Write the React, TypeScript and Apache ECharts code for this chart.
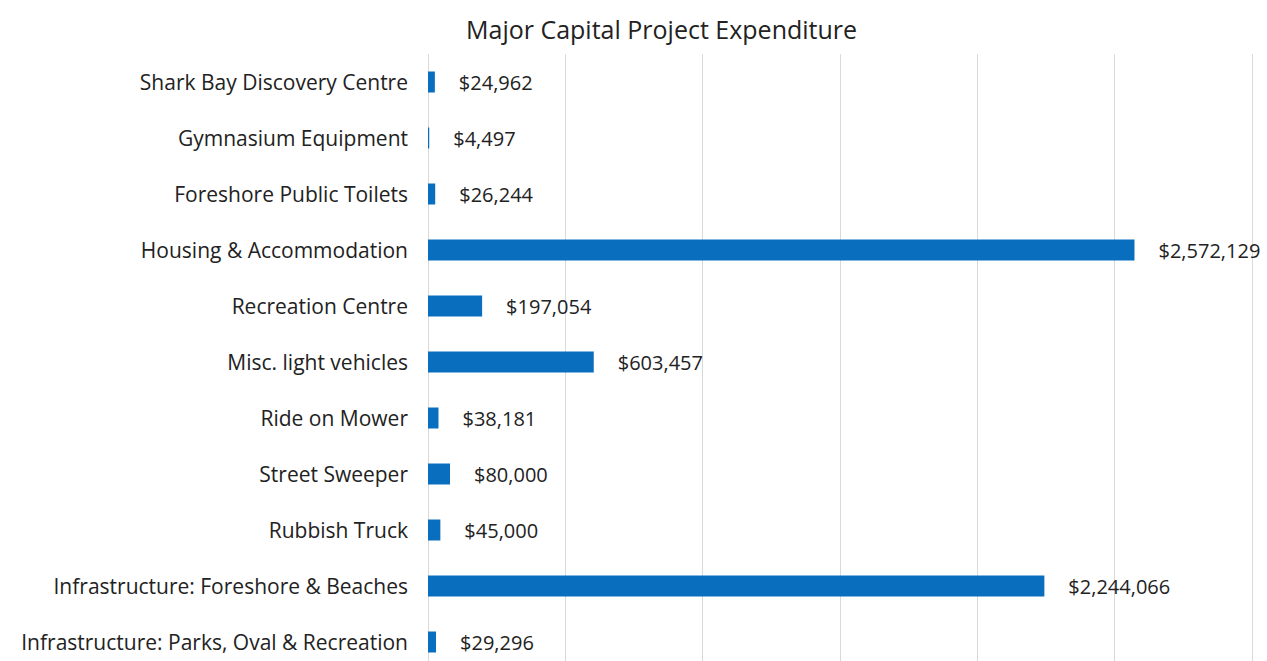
import React, { useEffect, useRef } from "react";
import * as echarts from "echarts";

const categories = [
  "Shark Bay Discovery Centre",
  "Gymnasium Equipment",
  "Foreshore Public Toilets",
  "Housing & Accommodation",
  "Recreation Centre",
  "Misc. light vehicles",
  "Ride on Mower",
  "Street Sweeper",
  "Rubbish Truck",
  "Infrastructure: Foreshore & Beaches",
  "Infrastructure: Parks, Oval & Recreation",
];

const expenditure = [24962, 4497, 26244, 2572129, 197054, 603457, 38181, 80000, 45000, 2244066, 29296];

const titleText = "Major Capital Project Expenditure";

export default function App() {
  const ref = useRef<HTMLDivElement>(null);
  useEffect(() => {
    if (!ref.current) return;
    const chart = echarts.init(ref.current, null, { renderer: "svg" });
    chart.setOption({
      animation: false,
      backgroundColor: "#ffffff",
      title: {
        text: titleText,
        left: 461,
        top: 11,
        textStyle: { fontFamily: "Open Sans", fontSize: 25, fontWeight: "normal", color: "#222" },
      },
      grid: { left: 428, right: 15, top: 54, bottom: 10 },
      xAxis: {
        type: "value",
        min: 0,
        max: 3000000,
        interval: 500000,
        axisLabel: { show: false },
        axisLine: { show: false },
        axisTick: { show: false },
        splitLine: { show: true, lineStyle: { color: "#d9d9d9", width: 1 } },
      },
      yAxis: {
        type: "category",
        data: categories,
        inverse: true,
        axisLine: { show: false },
        axisTick: { show: false },
        axisLabel: { fontFamily: "Open Sans", fontSize: 21, color: "#222", margin: 20 },
      },
      series: [
        {
          type: "bar",
          data: expenditure,
          barWidth: 21,
          itemStyle: { color: "#0a6ebf" },
          label: {
            show: true,
            position: "right",
            distance: 24,
            fontFamily: "Open Sans",
            fontSize: 20,
            color: "#222",
            formatter: (p: any) => "$" + Number(p.value).toLocaleString("en-US"),
          },
        },
      ],
    });
    return () => chart.dispose();
  }, []);
  return (
    <div style={{ position: "absolute", left: 0, top: 0, width: 1267, height: 661, overflow: "hidden" }}>
      <div ref={ref} style={{ width: 1267, height: 680 }} />
    </div>
  );
}
